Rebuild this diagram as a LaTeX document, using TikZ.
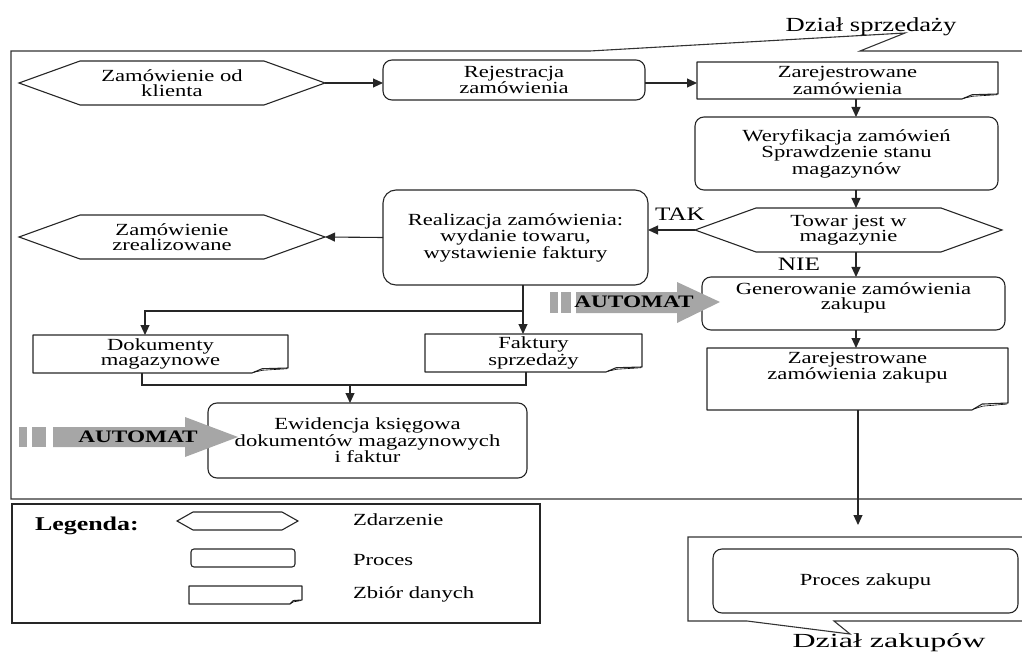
\documentclass[tikz,border=0pt]{standalone}
\usepackage{fontspec}
\setmainfont[FakeStretch=1.33]{Liberation Serif}
\usetikzlibrary{arrows.meta}

% hexagonal event outline around a named node (#2 = length of the slanted ends)
\newcommand\evframe[2]{%
  \draw[conn] (#1.west) -- ([xshift=#2]#1.north west) -- ([xshift=-#2]#1.north east)
    -- (#1.east) -- ([xshift=-#2]#1.south east) -- ([xshift=#2]#1.south west) -- cycle;}
% data set outline with a curled bottom-right corner (#2 = fold length, #3 = fold height)
\newcommand\docframe[3]{%
  \draw[conn, line join=round] (#1.north west) -- (#1.north east) -- ([yshift=#3]#1.south east)
    -- ([xshift=-0.72*#2,yshift=0.85*#3]#1.south east) -- ([xshift=-#2]#1.south east)
    -- (#1.south west) -- cycle;
  \draw[line width=0.6pt] ([xshift=-0.95*#2,yshift=0.15*#3]#1.south east)
    -- ([xshift=-0.7*#2,yshift=0.55*#3]#1.south east) -- ([xshift=-1pt,yshift=0.85*#3]#1.south east);}

\begin{document}
\begin{tikzpicture}[x=1pt,y=-1pt,
  every node/.style={inner sep=0pt, outer sep=0pt},
  txt/.style={font=\fontsize{17}{15}\selectfont, align=center},
  procbox/.style={txt, draw=black!85, line width=1.1pt, rounded corners=9pt},
  datashape/.style={txt},
  evshape/.style={txt},
  conn/.style={line width=1.1pt, draw=black!85},
  arr/.style={conn, -{Triangle[length=10pt,width=9pt]}},
  frame/.style={line width=1.1pt, draw=black!80},
  autofill/.style={fill=black!35},
  autotxt/.style={font=\fontsize{17.5}{17.5}\selectfont\bfseries},
  lbl/.style={font=\fontsize{19}{19}\selectfont},
  legtxt/.style={font=\fontsize{17}{17}\selectfont, anchor=base west},
]
\useasboundingbox (0,0) rectangle (1022,652);

% department frames
\draw[frame] (1022,51) -- (860,51) -- (905,33) -- (590,51) -- (11,51) -- (11,499) -- (1022,499);
\node[font=\fontsize{20}{20}\selectfont, anchor=base] (dsp) at (871,32) {Dział sprzedaży};
\draw[frame] (1022,537) -- (688,537) -- (688,621) -- (747,621) -- (850,634) -- (834,621) -- (1022,621);
\node[font=\fontsize{20}{20}\selectfont\addfontfeatures{FakeStretch=1.6}, anchor=base] (dzk) at (889,647.5) {Dział zakupów};

% nodes
\node[evshape, minimum width=306pt, minimum height=44pt] (zk) at (172,83) {Zamówienie od\\klienta};
\evframe{zk}{61pt}
\node[procbox, minimum width=262pt, minimum height=40pt] (rej) at (514,80) {Rejestracja\\zamówienia};
\node[datashape, minimum width=301pt, minimum height=37pt] (zz) at (847.5,80.5) {Zarejestrowane\\zamówienia};
\docframe{zz}{36pt}{5pt}
\node[procbox, minimum width=303pt, minimum height=73pt] (wer) at (846.5,153.5) {Weryfikacja zamówień\\Sprawdzenie stanu\\magazynów};
\node[evshape, minimum width=307pt, minimum height=44pt] (tow) at (848.5,230) {Towar jest w\\magazynie};
\evframe{tow}{61pt}
\node[procbox, rounded corners=13pt, minimum width=265pt, minimum height=95pt] (real) at (515.5,237.5) {Realizacja zamówienia:\\wydanie towaru,\\wystawienie faktury};
\node[evshape, minimum width=306pt, minimum height=44pt] (zzr) at (172,237) {Zamówienie\\zrealizowane};
\evframe{zzr}{61pt}
\node[procbox, minimum width=303pt, minimum height=53pt, text depth=15pt] (gen) at (853.5,303.5) {Generowanie zamówienia\\zakupu};
\node[datashape, minimum width=255pt, minimum height=38pt] (dok) at (160.5,354) {Dokumenty\\magazynowe};
\docframe{dok}{36pt}{5pt}
\node[datashape, minimum width=217pt, minimum height=38pt] (fak) at (533.5,353) {Faktury\\sprzedaży};
\docframe{fak}{36pt}{5pt}
\node[procbox, minimum width=319pt, minimum height=75pt] (ewi) at (367.5,440.5) {Ewidencja księgowa\\dokumentów magazynowych\\i faktur};
\node[datashape, minimum width=301pt, minimum height=62pt, text depth=26pt] (zzak) at (857.5,379) {Zarejestrowane\\zamówienia zakupu};
\docframe{zzak}{36pt}{7pt}
\node[procbox, minimum width=305pt, minimum height=64pt] (pz) at (865.5,581) {Proces zakupu};

% connectors
\coordinate (colR) at (856,0);
\draw[arr] (zk.east) -- (zk.east -| rej.west);
\draw[arr] ([yshift=-3pt]rej.east) -- ([yshift=-3pt]rej.east -| zz.west);
\draw[arr] (zz.south -| colR) -- (wer.north -| colR);
\draw[arr] (wer.south -| colR) -- (tow.north -| colR);
\draw[arr] (tow.west) -- (tow.west -| real.east);
\node[lbl, anchor=base] (tak) at (680,221) {TAK};
\draw[arr] (tow.south -| colR) -- (gen.north -| colR);
\node[lbl, anchor=base] (nie) at (799,270) {NIE};
\draw[arr] (gen.south -| colR) -- (zzak.north -| colR);
\draw[arr] (real.west) -- (zzr.east);

\coordinate (br) at (523,311);
\coordinate (dk) at (145,0);
\draw[conn] (real.south -| br) -- (br);
\draw[arr] (br) -- (fak.north -| br);
\draw[arr] (br) -| (dok.north -| dk);

\coordinate (mg) at (350,385);
\coordinate (dkout) at (142,0);
\coordinate (fkout) at (526,0);
\draw[conn] (dok.south -| dkout) |- (mg);
\draw[conn] (fak.south -| fkout) |- (mg);
\draw[arr] (mg) -- (ewi.north -| mg);

\coordinate (pzin) at (858,525);
\draw[arr] (zzak.south -| pzin) -- (pzin);

% automatic-step arrows
\fill[autofill] (19,427) rectangle (27,447);
\fill[autofill] (32,427) rectangle (46,447);
\fill[autofill] (53,427) -- (185,427) -- (185,417) -- (238,437) -- (185,457) -- (185,447) -- (53,447) -- cycle;
\node[autotxt] (auto1) at (138,437) {AUTOMAT};
\fill[autofill] (550,292) rectangle (558,313);
\fill[autofill] (561,292) rectangle (571,313);
\fill[autofill] (576,292) -- (677,292) -- (677,282) -- (720,302) -- (677,323) -- (677,313) -- (576,313) -- cycle;
\node[autotxt] (auto2) at (634,302) {AUTOMAT};

% legend
\draw[line width=2.6pt, draw=black!85] (12,504) rectangle (540,623);
\node[font=\fontsize{19.5}{19.5}\selectfont\bfseries, anchor=base west] (leg) at (35,530) {Legenda:};
\node[minimum width=121pt, minimum height=18pt] (lev) at (237.5,521) {};
\evframe{lev}{16pt}
\node[legtxt] (levt) at (353,525) {Zdarzenie};
\node[draw=black!85, line width=1.1pt, rounded corners=3pt, minimum width=104pt, minimum height=18pt] (lpr) at (243,558) {};
\node[legtxt] (lprt) at (353,565) {Proces};
\node[minimum width=113pt, minimum height=18pt] (lzb) at (245.5,595) {};
\docframe{lzb}{12pt}{4pt}
\node[legtxt] (lzbt) at (353,598) {Zbiór danych};
\end{tikzpicture}
\end{document}
